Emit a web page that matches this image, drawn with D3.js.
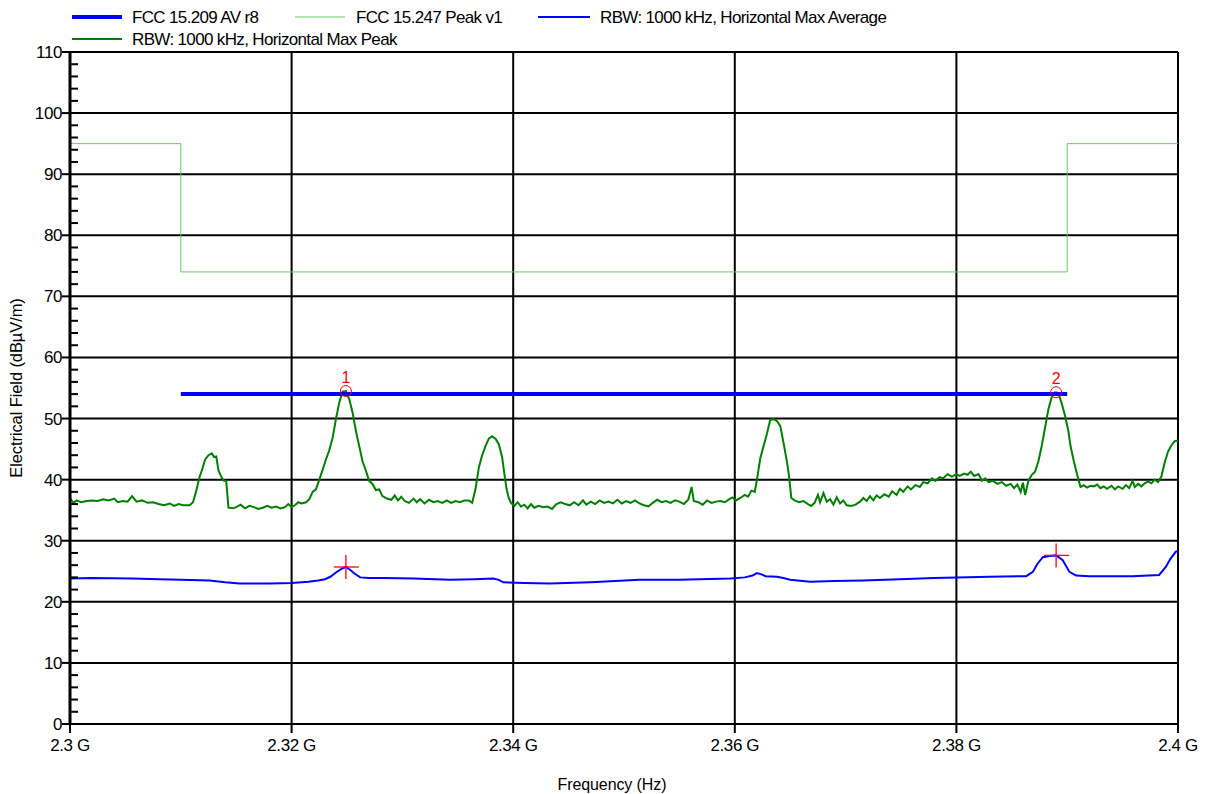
<!DOCTYPE html>
<html><head><meta charset="utf-8">
<script src="https://cdn.jsdelivr.net/npm/d3@7"></script>
<style>
html,body{margin:0;padding:0;background:#fff;}
svg text{font-family:"Liberation Sans",Arial,sans-serif;}
</style></head>
<body><svg id="chart" width="1207" height="794"></svg>
<script>
// ---------- data (frequency in MHz, level in dBµV/m) ----------
const xTickValues = [2300, 2320, 2340, 2360, 2380, 2400];
const xTickLabels = ["2.3 G", "2.32 G", "2.34 G", "2.36 G", "2.38 G", "2.4 G"];
const yTickValues = [0,10,20,30,40,50,60,70,80,90,100,110];

const avLimitFreq = [2310, 2390];
const avLimitLevel = [54, 54];
const pkLimitFreq = [2300, 2310, 2310, 2390, 2390, 2400];
const pkLimitLevel = [95, 95, 74, 74, 95, 95];

const peakFreq = [2300.0,2300.3,2300.6,2301.0,2301.5,2302.0,2302.5,2303.0,2303.5,2304.0,2304.3,2304.8,2305.2,2305.6,2306.0,2306.5,2307.0,2307.5,2308.0,2308.5,2309.0,2309.4,2309.8,2310.2,2310.8,2311.1,2311.4,2311.7,2311.9,2312.2,2312.5,2312.8,2313.0,2313.2,2313.4,2313.7,2313.9,2314.1,2314.3,2314.7,2315.0,2315.4,2315.8,2316.2,2316.6,2317.0,2317.4,2317.8,2318.2,2318.6,2319.0,2319.4,2319.7,2320.0,2320.3,2320.6,2320.9,2321.3,2321.6,2321.9,2322.2,2322.5,2322.8,2323.1,2323.4,2323.7,2324.0,2324.3,2324.6,2324.9,2325.2,2325.5,2325.8,2326.1,2326.4,2326.7,2327.0,2327.3,2327.6,2327.9,2328.2,2328.6,2329.0,2329.3,2329.6,2329.9,2330.2,2330.6,2331.0,2331.3,2331.6,2332.0,2332.4,2332.8,2333.2,2333.6,2334.0,2334.4,2334.8,2335.2,2335.6,2336.0,2336.3,2336.6,2336.9,2337.2,2337.5,2337.8,2338.1,2338.4,2338.7,2339.0,2339.2,2339.4,2339.6,2339.8,2340.1,2340.4,2340.7,2341.0,2341.3,2341.6,2341.9,2342.3,2342.7,2343.1,2343.5,2343.9,2344.3,2344.7,2345.1,2345.5,2345.9,2346.3,2346.6,2347.0,2347.4,2347.8,2348.2,2348.6,2349.0,2349.4,2349.8,2350.2,2350.6,2351.0,2351.4,2351.8,2352.2,2352.6,2353.0,2353.4,2353.8,2354.2,2354.6,2355.0,2355.4,2355.8,2356.1,2356.3,2356.7,2357.1,2357.5,2357.9,2358.3,2358.7,2359.1,2359.5,2359.8,2360.1,2360.5,2360.9,2361.2,2361.5,2361.8,2362.0,2362.3,2362.6,2362.9,2363.2,2363.5,2363.8,2364.1,2364.4,2364.7,2364.9,2365.1,2365.4,2365.8,2366.2,2366.6,2366.9,2367.2,2367.5,2367.7,2368.0,2368.3,2368.6,2368.9,2369.2,2369.5,2369.8,2370.1,2370.5,2370.9,2371.3,2371.6,2371.9,2372.2,2372.5,2372.8,2373.1,2373.5,2373.9,2374.2,2374.6,2374.9,2375.2,2375.6,2375.9,2376.3,2376.7,2377.0,2377.4,2377.8,2378.1,2378.5,2378.8,2379.2,2379.6,2380.0,2380.3,2380.7,2381.0,2381.3,2381.6,2382.0,2382.3,2382.6,2382.9,2383.3,2383.7,2384.1,2384.5,2384.9,2385.2,2385.5,2385.8,2386.0,2386.2,2386.5,2386.8,2387.1,2387.4,2387.7,2388.0,2388.3,2388.6,2388.9,2389.2,2389.5,2389.8,2390.1,2390.3,2390.6,2390.9,2391.2,2391.5,2391.8,2392.1,2392.4,2392.7,2393.0,2393.3,2393.6,2394.0,2394.3,2394.6,2395.0,2395.3,2395.6,2395.9,2396.1,2396.4,2396.7,2397.0,2397.3,2397.6,2397.9,2398.2,2398.5,2398.8,2399.1,2399.4,2399.7,2400.0];
const peakLevel = [37.0,36.2,36.6,36.3,36.5,36.6,36.5,36.8,36.6,36.9,36.3,36.5,36.4,37.3,36.4,36.6,36.2,36.3,36.0,35.8,36.1,35.7,36.0,35.8,35.8,36.3,38.2,40.5,41.5,43.3,44.0,44.3,43.7,43.8,41.5,40.3,39.8,39.8,35.4,35.3,35.5,35.9,35.3,35.7,35.5,35.2,35.4,35.7,35.4,35.6,35.3,35.5,36.0,35.5,35.8,36.3,36.1,36.3,36.8,38.0,38.4,40.0,41.6,43.3,44.8,46.8,49.9,52.6,54.4,54.5,53.2,51.0,48.0,45.5,43.0,41.5,39.8,39.3,38.3,38.4,37.3,36.9,36.7,37.4,36.6,37.2,36.5,36.2,36.9,36.3,36.8,36.1,36.7,36.3,36.5,36.2,36.6,36.2,36.5,36.3,36.6,36.6,36.2,38.5,42.0,44.0,45.5,46.7,47.1,46.7,45.8,43.7,41.0,38.5,37.0,36.2,35.7,36.3,35.6,35.9,35.3,36.0,35.4,35.7,35.5,35.6,35.2,36.0,36.3,36.0,35.8,36.3,35.8,36.6,35.9,36.4,36.0,36.6,36.2,36.4,36.1,36.7,36.1,36.5,36.2,36.6,36.1,35.8,35.6,36.2,36.7,36.3,36.5,36.2,36.6,36.4,36.0,36.7,38.8,36.5,36.3,35.9,36.6,36.2,36.4,36.5,36.3,36.8,37.1,36.6,37.0,37.5,37.2,38.2,38.0,40.0,43.5,45.5,47.5,49.8,49.9,49.6,48.8,46.0,43.0,40.5,37.0,36.6,36.3,36.5,36.0,35.7,36.2,37.5,36.3,37.8,36.4,36.8,35.9,37.1,36.1,36.6,35.8,35.7,35.9,36.4,37.0,36.5,37.3,36.6,37.4,37.0,37.6,37.2,38.1,37.5,38.5,38.0,38.9,38.4,39.1,38.8,39.6,39.4,40.2,39.8,40.4,40.2,40.9,40.5,40.9,40.6,41.0,40.8,41.3,40.6,40.9,39.8,40.2,39.6,39.8,39.3,39.6,39.0,39.3,38.6,39.2,38.0,39.5,37.5,39.8,40.8,41.3,43.0,45.5,48.5,51.5,53.5,54.3,54.2,52.5,50.5,48.0,45.5,43.0,40.8,38.8,39.1,38.7,39.0,38.9,39.2,38.6,38.9,38.5,39.0,38.4,38.9,38.5,39.1,38.6,39.8,38.8,39.3,38.9,39.4,39.7,39.4,40.0,39.6,40.5,42.8,44.6,45.6,46.3,46.4];

const avgFreq = [2300.0,2302.0,2305.6,2308.0,2310.0,2312.6,2314.0,2315.3,2318.0,2320.0,2321.5,2322.4,2323.0,2323.5,2324.0,2324.5,2324.9,2325.3,2325.7,2326.2,2327.0,2328.3,2331.0,2334.3,2336.5,2338.2,2338.7,2339.1,2341.0,2343.3,2347.0,2351.4,2355.0,2359.6,2360.9,2361.6,2362.0,2362.4,2362.8,2363.8,2364.4,2365.0,2366.8,2369.0,2371.6,2374.9,2378.0,2380.0,2383.0,2386.3,2386.9,2387.3,2387.8,2388.4,2389.0,2389.6,2390.2,2390.8,2392.0,2395.9,2398.3,2398.9,2399.3,2399.8,2400.0];
const avgLevel = [23.8,23.9,23.8,23.7,23.6,23.5,23.2,23.0,23.0,23.1,23.3,23.5,23.7,24.1,24.8,25.4,25.7,25.2,24.6,24.0,23.9,23.9,23.8,23.6,23.7,23.8,23.6,23.2,23.1,23.0,23.2,23.6,23.6,23.8,24.0,24.3,24.7,24.5,24.2,24.1,23.9,23.6,23.3,23.4,23.5,23.7,23.9,24.0,24.1,24.2,24.9,26.2,27.3,27.5,27.6,26.8,24.9,24.3,24.2,24.2,24.4,25.7,27.0,28.2,28.3];

const markerLabels = ["1", "2"];
const markerFreq = [2324.9, 2389.0];
const markerPeak = [54.5, 54.3];
const markerAvg = [25.7, 27.6];

const legendNames = ["FCC 15.209 AV r8", "FCC 15.247 Peak v1", "RBW: 1000 kHz, Horizontal Max Average", "RBW: 1000 kHz, Horizontal Max Peak"];

// ---------- chart ----------
const svg = d3.select("#chart");
const L = 70, R = 1178, T = 52, B = 724;
const x = d3.scaleLinear().domain([2300, 2400]).range([L, R]);
const y = d3.scaleLinear().domain([0, 110]).range([B, T]);

const BLUE = "#0000ff", GREEN = "#008000", LGREEN = "#66cc66", RED = "#ff0000";

// grid
const grid = svg.append("g");
grid.selectAll(".hg").data(yTickValues.filter(d => d > 0)).join("line")
  .attr("x1", L).attr("x2", R).attr("y1", d => y(d)).attr("y2", d => y(d))
  .attr("stroke", "#000").attr("stroke-width", 2);
grid.selectAll(".vg").data(xTickValues.filter(d => d > 2300)).join("line")
  .attr("x1", d => x(d)).attr("x2", d => x(d)).attr("y1", T).attr("y2", B)
  .attr("stroke", "#000").attr("stroke-width", 2);

// limit lines
svg.append("path")
  .attr("d", d3.line().x((d, i) => x(pkLimitFreq[i])).y(d => y(d))(pkLimitLevel))
  .attr("fill", "none").attr("stroke", LGREEN).attr("stroke-width", 1);

// traces
svg.append("path")
  .attr("d", d3.line().x((d, i) => x(avgFreq[i])).y(d => y(d))(avgLevel))
  .attr("fill", "none").attr("stroke", BLUE).attr("stroke-width", 2);
svg.append("path")
  .attr("d", d3.line().x((d, i) => x(peakFreq[i])).y(d => y(d))(peakLevel))
  .attr("fill", "none").attr("stroke", GREEN).attr("stroke-width", 2);

svg.append("path")
  .attr("d", d3.line().x((d, i) => x(avLimitFreq[i])).y(d => y(d))(avLimitLevel))
  .attr("fill", "none").attr("stroke", BLUE).attr("stroke-width", 4);

// markers
const mk = svg.append("g");
markerFreq.forEach((f, i) => {
  mk.append("circle").attr("cx", x(f)).attr("cy", y(markerPeak[i])).attr("r", 5.5)
    .attr("fill", "none").attr("stroke", RED).attr("stroke-width", 1);
  mk.append("text").attr("x", x(f)).attr("y", y(markerPeak[i]) - 8)
    .attr("text-anchor", "middle").attr("font-size", 16).attr("fill", RED).text(markerLabels[i]);
  mk.append("line").attr("x1", x(f) - 12).attr("x2", x(f) + 13)
    .attr("y1", y(markerAvg[i])).attr("y2", y(markerAvg[i])).attr("stroke", RED).attr("stroke-width", 1.3);
  mk.append("line").attr("x1", x(f)).attr("x2", x(f))
    .attr("y1", y(markerAvg[i]) - 12).attr("y2", y(markerAvg[i]) + 12).attr("stroke", RED).attr("stroke-width", 1.3);
});

// y axis
const yAxis = svg.append("g");
yAxis.append("line").attr("x1", L).attr("x2", L).attr("y1", T - 1).attr("y2", B + 1)
  .attr("stroke", "#000").attr("stroke-width", 3);
yAxis.selectAll(".ymaj").data(yTickValues).join("line")
  .attr("x1", L - 8).attr("x2", L).attr("y1", d => y(d)).attr("y2", d => y(d))
  .attr("stroke", "#000").attr("stroke-width", 2);
yAxis.selectAll(".ymin").data(d3.range(0, 111, 2).filter(d => d % 10 !== 0)).join("line")
  .attr("x1", L).attr("x2", L + 8).attr("y1", d => y(d)).attr("y2", d => y(d))
  .attr("stroke", "#000").attr("stroke-width", 2);
yAxis.selectAll(".ylab").data(yTickValues).join("text")
  .attr("x", L - 8).attr("y", d => y(d) + 6).attr("text-anchor", "end")
  .attr("font-size", 17).attr("letter-spacing", -0.4).attr("fill", "#000").text(d => d);

// x axis
const xAxis = svg.append("g");
xAxis.append("line").attr("x1", L).attr("x2", R).attr("y1", B).attr("y2", B)
  .attr("stroke", "#000").attr("stroke-width", 2);
xAxis.selectAll(".xt").data(xTickValues).join("line")
  .attr("x1", d => x(d)).attr("x2", d => x(d)).attr("y1", B).attr("y2", B + 9)
  .attr("stroke", "#000").attr("stroke-width", 2);
xAxis.selectAll(".xl").data(xTickValues).join("text")
  .attr("x", d => x(d)).attr("y", B + 27).attr("text-anchor", "middle")
  .attr("font-size", 17).attr("letter-spacing", -0.4).attr("fill", "#000").text((d, i) => xTickLabels[i]);

svg.append("text").attr("x", 612).attr("y", 790).attr("text-anchor", "middle")
  .attr("font-size", 16).attr("letter-spacing", -0.1).text("Frequency (Hz)");
svg.append("text").attr("transform", `translate(22,${(T + B) / 2}) rotate(-90)`)
  .attr("text-anchor", "middle").attr("font-size", 16.5).attr("letter-spacing", -0.1)
  .text("Electrical Field (dBµV/m)");

// legend
const legendItems = [
  {name: legendNames[0], color: BLUE, w: 4, x1: 72, x2: 122, tx: 132, y: 17},
  {name: legendNames[1], color: LGREEN, w: 1, x1: 295, x2: 345, tx: 356, y: 17},
  {name: legendNames[2], color: BLUE, w: 2, x1: 538, x2: 590, tx: 600, y: 17},
  {name: legendNames[3], color: GREEN, w: 2, x1: 72, x2: 122, tx: 132, y: 39}
];
const lg = svg.append("g");
legendItems.forEach(d => {
  lg.append("line").attr("x1", d.x1).attr("x2", d.x2).attr("y1", d.y).attr("y2", d.y)
    .attr("stroke", d.color).attr("stroke-width", d.w);
  lg.append("text").attr("x", d.tx).attr("y", d.y + 6).attr("font-size", 17)
    .attr("letter-spacing", -0.65).attr("fill", "#000").text(d.name);
});
</script></body></html>
